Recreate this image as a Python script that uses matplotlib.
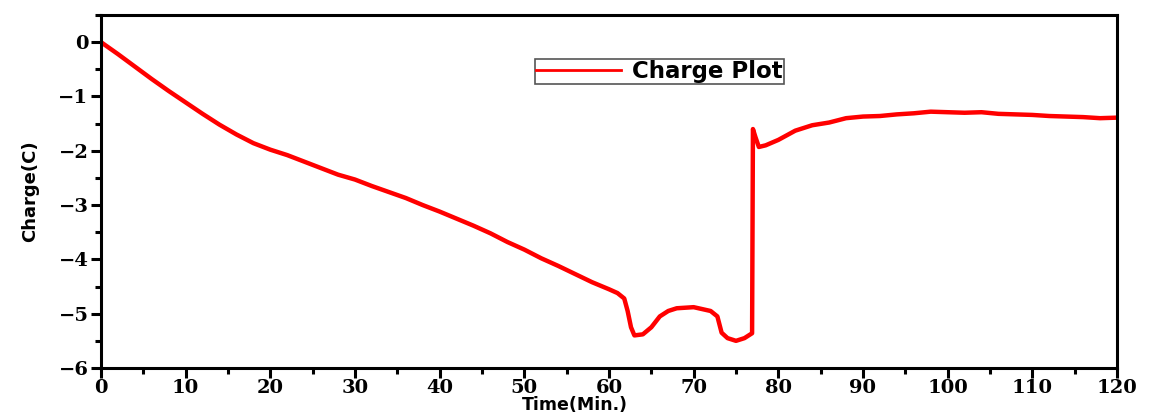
import matplotlib
matplotlib.use("Agg")
import matplotlib.pyplot as plt
from matplotlib.ticker import MultipleLocator

time_min = [0, 2, 4, 6, 8, 10, 12, 14, 16, 18, 20, 22, 24, 26, 28, 30, 32, 34, 36, 38,
            40, 42, 44, 46, 48, 50, 52, 54, 56, 58, 60, 61, 61.8, 62.2, 62.6, 63, 64, 65,
            66, 67, 68, 70, 72, 72.8, 73.3, 74, 75, 76, 76.9, 77.0, 77.3, 77.7, 78.5, 80,
            82, 84, 86, 88, 90, 92, 94, 96, 98, 100, 102, 104, 106, 108, 110, 112, 114,
            116, 118, 120]
charge = [0, -0.22, -0.45, -0.68, -0.9, -1.11, -1.32, -1.52, -1.7, -1.86, -1.98, -2.08,
          -2.2, -2.32, -2.44, -2.53, -2.65, -2.76, -2.87, -3.0, -3.12, -3.25, -3.38, -3.52,
          -3.68, -3.82, -3.98, -4.12, -4.27, -4.42, -4.55, -4.62, -4.72, -4.95, -5.25, -5.4,
          -5.38, -5.25, -5.05, -4.95, -4.9, -4.88, -4.95, -5.05, -5.35, -5.45, -5.5, -5.45,
          -5.36, -1.6, -1.75, -1.93, -1.9, -1.8, -1.63, -1.53, -1.48, -1.4, -1.37, -1.36,
          -1.33, -1.31, -1.28, -1.29, -1.30, -1.29, -1.32, -1.33, -1.34, -1.36, -1.37,
          -1.38, -1.40, -1.39]

x_ticks = [0, 10, 20, 30, 40, 50, 60, 70, 80, 90, 100, 110, 120]
y_ticks = [0, -1, -2, -3, -4, -5, -6]

fig = plt.figure(figsize=(11.49, 4.15), dpi=100)
ax = fig.add_axes([101/1149, 1-368/415, (1117-101)/1149, (368-15)/415])

ax.plot(time_min, charge, color="#ff0000", lw=3.2, label="Charge Plot")

ax.set_xlim(0, 120)
ax.set_ylim(-6, 0.5)
ax.set_xticks(x_ticks)
ax.set_yticks(y_ticks)
ax.xaxis.set_minor_locator(MultipleLocator(5))
ax.yaxis.set_minor_locator(MultipleLocator(0.5))

for s in ax.spines.values():
    s.set_linewidth(2.2)

ax.tick_params(which="major", direction="out", length=7, width=2.2, top=False, right=False, pad=2)
ax.tick_params(axis="x", which="major", pad=1)
ax.tick_params(which="minor", direction="out", length=4, width=2.2, top=False, right=False)

tick_font = dict(family="DejaVu Serif", weight="bold", size=14)
ax.set_xticklabels([str(v) for v in x_ticks], **tick_font)
ax.set_yticklabels([("\u2212" + str(-v)) if v < 0 else str(v) for v in y_ticks], **tick_font)

ax.set_xlabel("Time(Min.)", family="DejaVu Sans", weight="bold", size=12.5)
ax.xaxis.set_label_coords(0.5, 1/415, transform=fig.transFigure)
ax.xaxis.label.set_verticalalignment("bottom")
ax.set_ylabel("Charge(C)", family="DejaVu Sans", weight="bold",
              size=13, labelpad=14)

leg = ax.legend(loc="upper left", bbox_to_anchor=(535/1149, 1-59/415),
                bbox_transform=fig.transFigure, fancybox=False, framealpha=1,
                prop=dict(family="DejaVu Sans", weight="bold", size=16.5),
                handlelength=3.7, borderpad=0.05, handletextpad=0.5, borderaxespad=0)
leg.get_frame().set_edgecolor("#555555")
leg.get_frame().set_linewidth(1.2)
leg.get_lines()[0].set_linewidth(2)

fig.savefig("out.png", dpi=100)
